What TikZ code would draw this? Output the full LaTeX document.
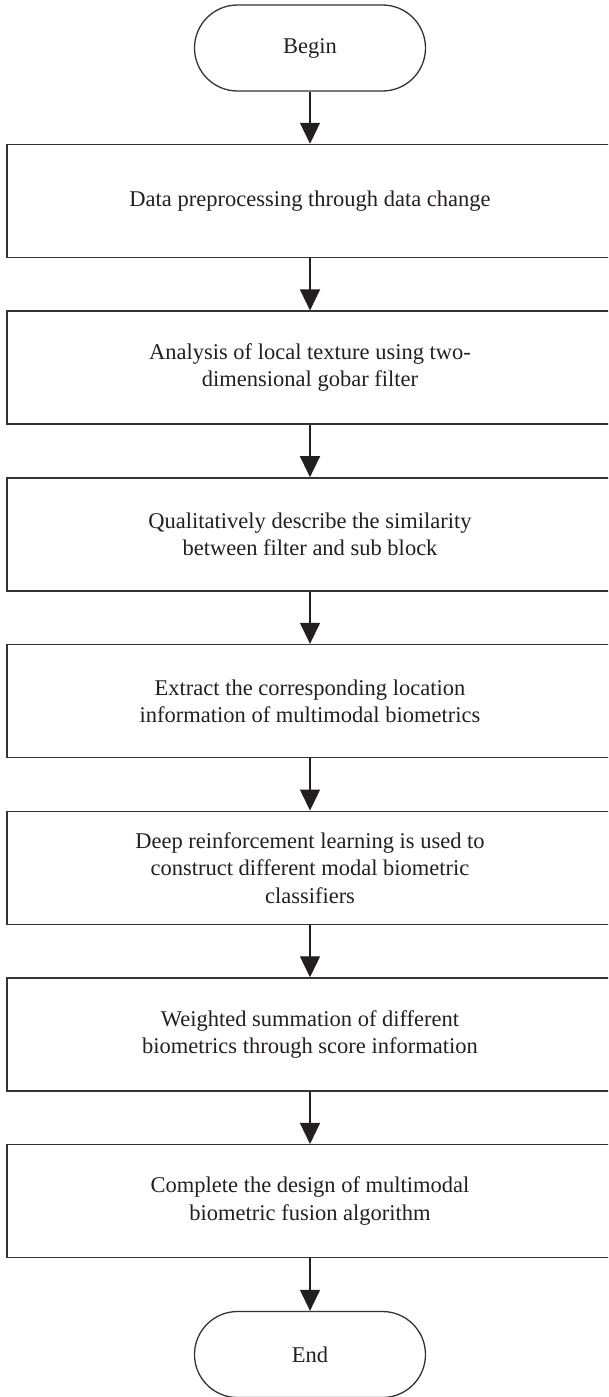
\documentclass[tikz,border=0pt]{standalone}
\usepackage{fontspec}
\setmainfont{Liberation Serif}
\usetikzlibrary{arrows.meta}
\definecolor{inkc}{HTML}{231F20}
\definecolor{linec}{HTML}{333333}
\tikzset{
  x=1pt, y=-1pt,
  procbox/.style={draw=linec, line width=1.5pt, minimum width=606pt, minimum height=113pt,
    inner sep=0pt, align=center, text=inkc, font=\fontsize{22.5}{27.5}\selectfont},
  termbox/.style={draw=linec, line width=1.3pt, minimum width=231pt, minimum height=86pt,
    rounded corners=43pt, inner sep=0pt, align=center, text=inkc, font=\fontsize{22.5}{27.5}\selectfont},
  flowarrow/.style={draw=inkc, line width=1.3pt, -{Triangle[length=21pt,width=20pt]}}
}
\begin{document}
\begin{tikzpicture}
\useasboundingbox (0,0) rectangle (608,1397);
\clip (0,0) rectangle (608,1397);
\node[termbox] (begin) at (310,48) {Begin};
\node[procbox] (b1) at (310,201) {Data preprocessing through data change};
\node[procbox] (b2) at (310,367.7) {Analysis of local texture using two-\\dimensional gobar filter};
\node[procbox] (b3) at (310,534.4) {Qualitatively describe the similarity\\between filter and sub block};
\node[procbox] (b4) at (310,701.1) {Extract the corresponding location\\information of multimodal biometrics};
\node[procbox] (b5) at (310,867.8) {Deep reinforcement learning is used to\\construct different modal biometric\\classifiers};
\node[procbox] (b6) at (310,1034.5) {Weighted summation of different\\biometrics through score information};
\node[procbox] (b7) at (310,1201.2) {Complete the design of multimodal\\biometric fusion algorithm};
\node[termbox] (end) at (310,1354.5) {End};
\draw[flowarrow] (begin) -- (b1);
\draw[flowarrow] (b1) -- (b2);
\draw[flowarrow] (b2) -- (b3);
\draw[flowarrow] (b3) -- (b4);
\draw[flowarrow] (b4) -- (b5);
\draw[flowarrow] (b5) -- (b6);
\draw[flowarrow] (b6) -- (b7);
\draw[flowarrow] (b7) -- (end);
\end{tikzpicture}
\end{document}
